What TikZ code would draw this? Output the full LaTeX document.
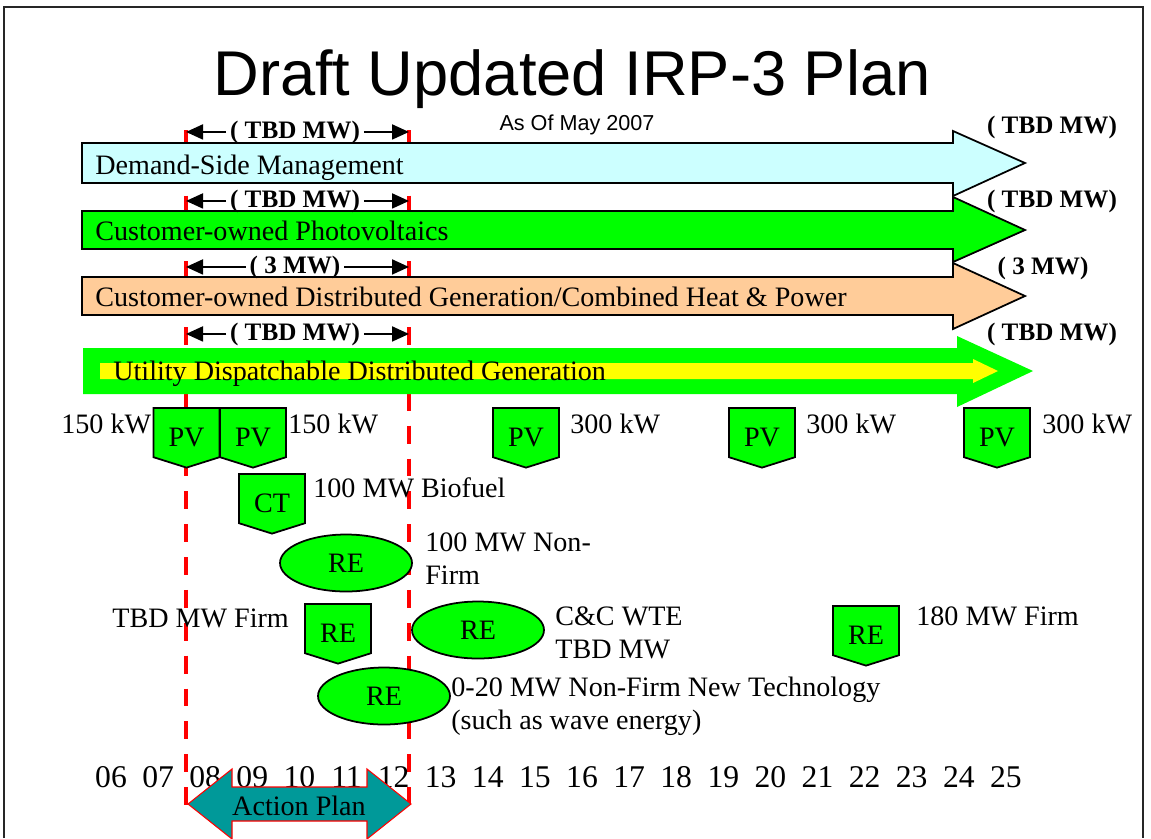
\documentclass[tikz,border=0pt]{standalone}
\usepackage{fontspec}
\setmainfont{Liberation Serif}
\newfontfamily\headfont{Liberation Sans}
\usetikzlibrary{arrows.meta, shapes.geometric, shapes.symbols}
\definecolor{dsmcyan}{HTML}{CCFFFF}
\definecolor{unitgreen}{HTML}{00FF00}
\definecolor{dgpeach}{HTML}{FFCC99}
\definecolor{udyellow}{HTML}{FFFF00}
\definecolor{planteal}{HTML}{009999}
\definecolor{planred}{HTML}{FF0000}
\tikzset{
    txt/.style={font=\fontsize{16}{18.8}\selectfont, inner sep=0pt},
    barlabel/.style={txt, anchor=base west},
    rangelbl/.style={font=\bfseries\fontsize{14.3}{16}\selectfont, anchor=base, inner sep=2pt},
    rangearrow/.style={-{Triangle[length=0.34cm, width=0.3cm]}, line width=1.1pt},
    bararrow/.style={draw=black, line width=1pt},
    plate/.style={signal, signal to=south, signal pointer angle=145, draw, fill=unitgreen, line width=1pt, minimum width=1.32cm, minimum height=1.1cm, inner sep=0pt, text height=16pt, text depth=0pt, font=\fontsize{16}{18}\selectfont},
    unit/.style={ellipse, draw, fill=unitgreen, line width=1pt, minimum width=2.64cm, minimum height=1.14cm, inner sep=0pt, font=\fontsize{16}{18}\selectfont},
    planline/.style={planred, line width=2.3pt, dash pattern=on 10.2pt off 8.5pt}
}

\begin{document}
\begin{tikzpicture}[x=0.02cm, y=-0.02cm]
    \useasboundingbox (0,0) rectangle (1151,838);
    \draw[black!85, line width=1.1pt] (4,838) -- (4,7) -- (1143,7) -- (1143,838);

    \node[font=\headfont\fontsize{36}{40}\selectfont, anchor=base] (title) at (572,95) {Draft Updated IRP-3 Plan};
    \node[font=\headfont\fontsize{12.3}{14}\selectfont, anchor=base] (asof) at (577,130) {As Of May 2007};

    % action plan window
    \coordinate (planL) at (186,130);
    \coordinate (planR) at (409,130);
    \draw[planline] (planL) -- (186,808);
    \draw[planline] (planR) -- (409,808);

    % resource bands
    \draw[bararrow, fill=dsmcyan] (82,143) -- (953,143) -- (953,131) -- (1025,163) -- (953,196) -- (953,183) -- (82,183) -- cycle;
    \draw[bararrow, fill=unitgreen] (82,211) -- (953,211) -- (953,197) -- (1025,230) -- (953,262) -- (953,249) -- (82,249) -- cycle;
    \draw[bararrow, fill=dgpeach] (82,277) -- (953,277) -- (953,263) -- (1025,296) -- (953,329) -- (953,315) -- (82,315) -- cycle;
    \fill[unitgreen] (83,348) -- (957,348) -- (957,336) -- (1033,371) -- (957,407) -- (957,394) -- (83,394) -- cycle;
    \fill[udyellow] (100,363) -- (973,363) -- (973,359) -- (998,371) -- (973,383) -- (973,379) -- (100,379) -- cycle;

    \node[barlabel] (dsm) at (95,174) {Demand-Side Management};
    \node[barlabel] (cpv) at (95,240) {Customer-owned Photovoltaics};
    \node[barlabel] (cdg) at (95,306) {Customer-owned Distributed Generation/Combined Heat \& Power};
    \node[barlabel] (udg) at (113,380) {Utility Dispatchable Distributed Generation};

    % amounts inside the window
    \node[rangelbl] (dsmwin) at (295,138) {( TBD MW)};
    \node[rangelbl] (cpvwin) at (295,207) {( TBD MW)};
    \node[rangelbl] (cdgwin) at (295,273) {( 3 MW)};
    \node[rangelbl] (udgwin) at (295,340) {( TBD MW)};
    \foreach \nm in {dsmwin, cpvwin, cdgwin, udgwin} {
        \draw[rangearrow] (\nm.west) -- (\nm.west -| planL);
        \draw[rangearrow] (\nm.east) -- (\nm.east -| planR);
    }

    % amounts over the whole horizon
    \node[rangelbl] (dsmall) at (1052,133) {( TBD MW)};
    \node[rangelbl] (cpvall) at (1052,207) {( TBD MW)};
    \node[rangelbl] (cdgall) at (1043,274) {( 3 MW)};
    \node[rangelbl] (udgall) at (1052,340) {( TBD MW)};

    % PV additions
    \node[plate, anchor=north] (pv1) at (186.5,407) {PV};
    \node[plate, anchor=north] (pv2) at (253,407) {PV};
    \node[plate, anchor=north] (pv3) at (526,407) {PV};
    \node[plate, anchor=north] (pv4) at (762,407) {PV};
    \node[plate, anchor=north] (pv5) at (997,407) {PV};
    \node[barlabel] (pv1kw) at (61,433) {150 kW};
    \node[barlabel] (pv2kw) at (288,433) {150 kW};
    \node[barlabel] (pv3kw) at (570,433) {300 kW};
    \node[barlabel] (pv4kw) at (806,433) {300 kW};
    \node[barlabel] (pv5kw) at (1042,433) {300 kW};

    % firm and non-firm units
    \node[plate, anchor=north] (ct) at (272,473) {CT};
    \node[barlabel] (ctmw) at (313,497) {100 MW Biofuel};
    \node[unit] (renf) at (346,563) {RE};
    \node[txt, align=left, anchor=west] (renfmw) at (425,559) {100 MW Non-\\Firm};
    \node[plate, anchor=north] (refirm) at (338,603) {RE};
    \node[barlabel] (refirmmw) at (112,627) {TBD MW Firm};
    \node[unit] (wte) at (478,630) {RE};
    \node[txt, align=left, anchor=west] (wtemw) at (555,633) {C\&C WTE\\TBD MW};
    \node[unit] (renew) at (384,696) {RE};
    \node[txt, align=left, anchor=west] (renewmw) at (451,706) {0-20 MW Non-Firm New Technology\\(such as wave energy)};
    \node[plate, anchor=north] (refirm2) at (866,605) {RE};
    \node[barlabel] (refirm2mw) at (916,625) {180 MW Firm};

    % years
    \foreach \yr [count=\i from 0] in {06,07,08,09,10,11,12,13,14,15,16,17,18,19,20,21,22,23,24,25}
        \node[font=\fontsize{18}{20}\selectfont, anchor=base, inner sep=0pt] (yr\yr) at (111+47.1*\i,787) {\yr};

    \draw[fill=planteal, draw=planred, line width=0.6pt] (188,804) -- (232,769) -- (232,787) -- (367,787) -- (367,769) -- (411,804) -- (367,839) -- (367,821) -- (232,821) -- (232,839) -- cycle;
    \node[font=\fontsize{16}{18}\selectfont, anchor=base, inner sep=0pt] (action) at (299,815) {Action Plan};
\end{tikzpicture}
\end{document}
